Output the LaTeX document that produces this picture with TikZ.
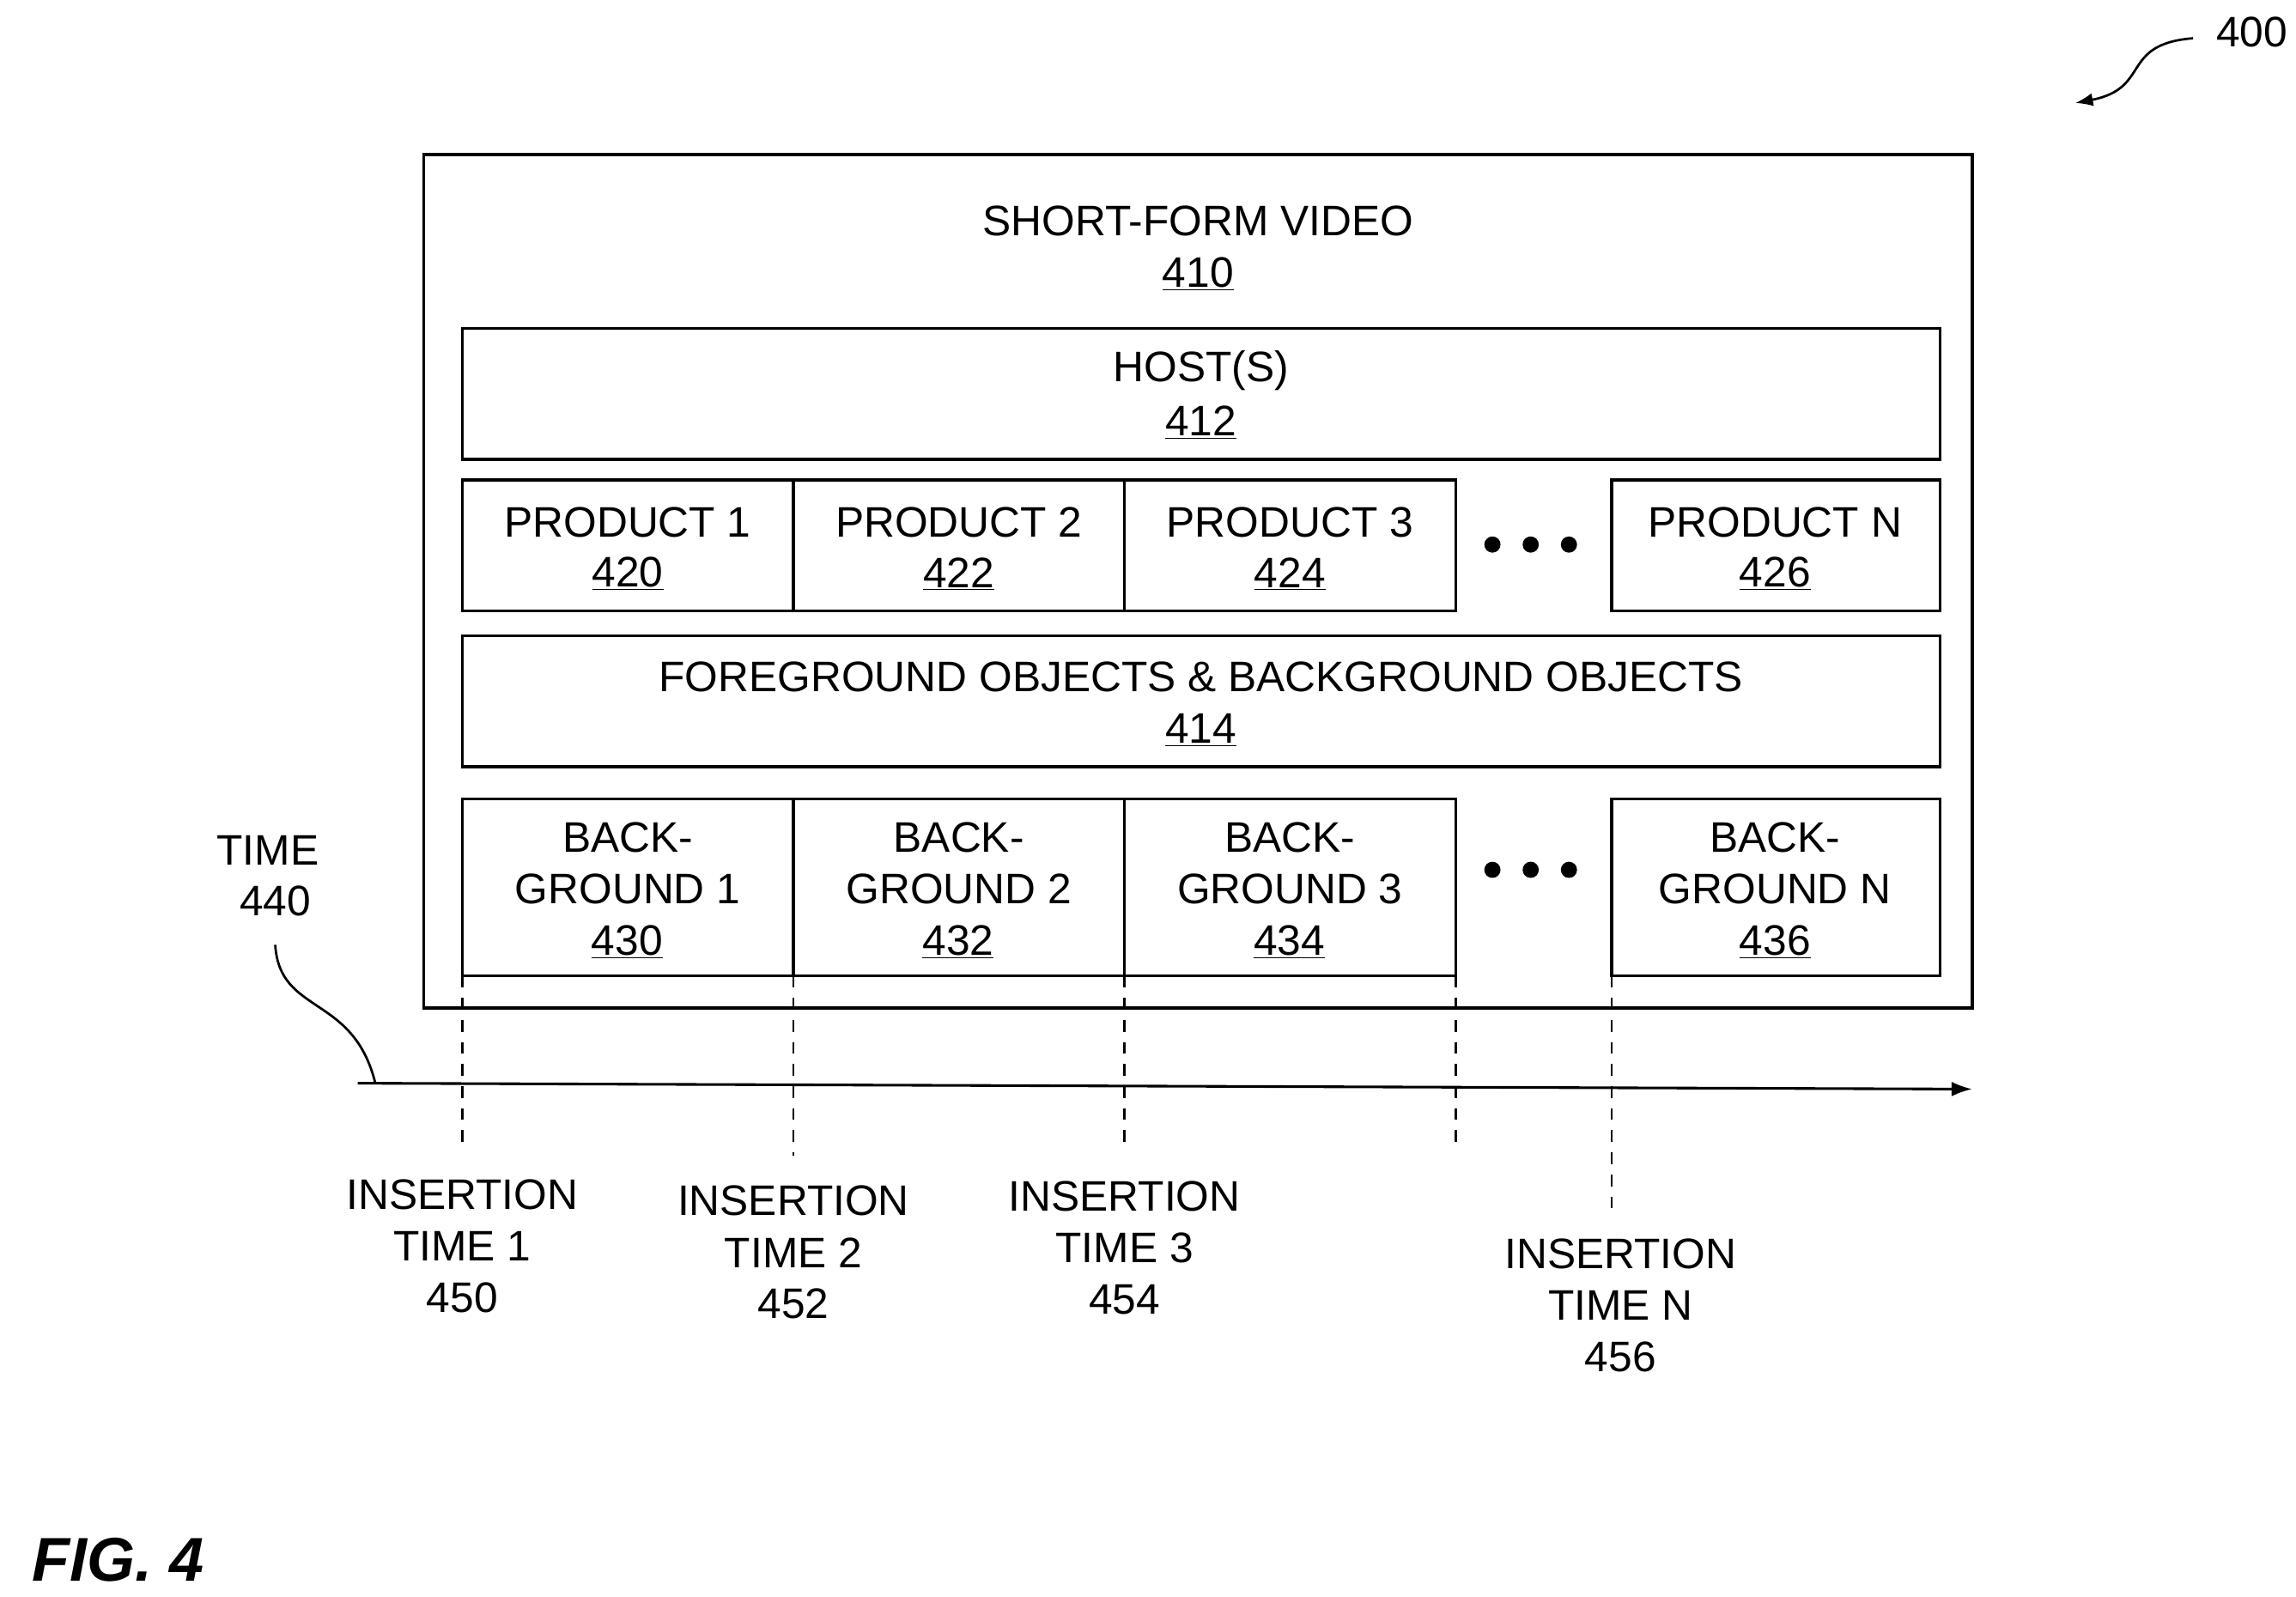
\documentclass[tikz,border=0pt]{standalone}
\usepackage{fontspec}
\setmainfont{Liberation Sans}
\usetikzlibrary{arrows.meta}
\begin{document}
\begin{tikzpicture}[x=1pt,y=-1pt,
  box/.style={draw,line width=2pt},
  txt/.style={font=\fontsize{29}{34}\selectfont,align=center,inner sep=0},
  dashln/.style={line width=1.6pt,dash pattern=on 8pt off 7pt},
  dot/.style={circle,fill,inner sep=0,minimum size=11pt}]
\useasboundingbox (0,0) rectangle (1560,1085);
\draw[box] (288,105) rectangle (1340,685);
\node[txt] (t410) at (814,150) {SHORT-FORM VIDEO};
\node[txt] (n410) at (814,186) {\underline{410}};
\draw[box] (314,223) rectangle (1318,312);
\node[txt] (h) at (816,252) {HOST(S)};
\node[txt] at (816,287) {\underline{412}};
\foreach \a/\b/\l/\n in {314/539/1/420,539/764/2/422,764/989/3/424}{
  \draw[box] (\a,326) rectangle (\b,415);
  \node[txt] at ({(\a+\b)/2},355) {PRODUCT \l};
  \node[txt] at ({(\a+\b)/2},390) {\underline{\n}};
  \draw[box] (\a,543) rectangle (\b,663);
  \node[txt] at ({(\a+\b)/2},569) {BACK-};
  \node[txt] at ({(\a+\b)/2},604) {GROUND \l};
}
\node[txt] at (426,640) {\underline{430}};
\node[txt] at (651,640) {\underline{432}};
\node[txt] at (876,640) {\underline{434}};
\draw[box] (1095,326) rectangle (1318,415);
\node[txt] at (1206,355) {PRODUCT N};
\node[txt] at (1206,390) {\underline{426}};
\draw[box] (1095,543) rectangle (1318,663);
\node[txt] at (1206,569) {BACK-};
\node[txt] at (1206,604) {GROUND N};
\node[txt] at (1206,640) {\underline{436}};
\foreach \x in {1014,1040,1066}{\node[dot] at (\x,370) {}; \node[dot] at (\x,591) {};}
\draw[box] (314,432) rectangle (1318,521);
\node[txt] at (816,460) {FOREGROUND OBJECTS \& BACKGROUND OBJECTS};
\node[txt] at (816,496) {\underline{414}};
% time axis
\coordinate (ts) at (243,736);
\coordinate (te) at (1340,740);
\draw[line width=1.8pt,-{Latex[length=14pt,width=10pt]}] (ts) -- (te);
\node[txt] (time) at (182,578) {TIME};
\node[txt] (t440) at (187,612) {440};
\draw[line width=1.6pt] (187,642) .. controls (190,690) and (240,675) .. (255,736);
\foreach \x/\e in {314/780,539/785,764/782,989/782,1095/822}{\draw[dashln] (\x,663) -- (\x,\e);}
\node[txt] at (314,812) {INSERTION}; \node[txt] at (314,847) {TIME 1}; \node[txt] at (314,882) {450};
\node[txt] at (539,816) {INSERTION}; \node[txt] at (539,851) {TIME 2}; \node[txt] at (539,886) {452};
\node[txt] at (764,813) {INSERTION}; \node[txt] at (764,848) {TIME 3}; \node[txt] at (764,883) {454};
\node[txt] at (1101,852) {INSERTION}; \node[txt] at (1101,887) {TIME N}; \node[txt] at (1101,922) {456};
\node[txt] (n400) at (1530,22) {400};
\draw[line width=1.6pt,-{Latex[length=12pt,width=9pt]}] (1490,26) .. controls (1440,30) and (1462,60) .. (1410,70);
\node[font=\fontsize{42}{48}\selectfont\bfseries\itshape,inner sep=0] at (80,1060) {FIG. 4};
\end{tikzpicture}
\end{document}
